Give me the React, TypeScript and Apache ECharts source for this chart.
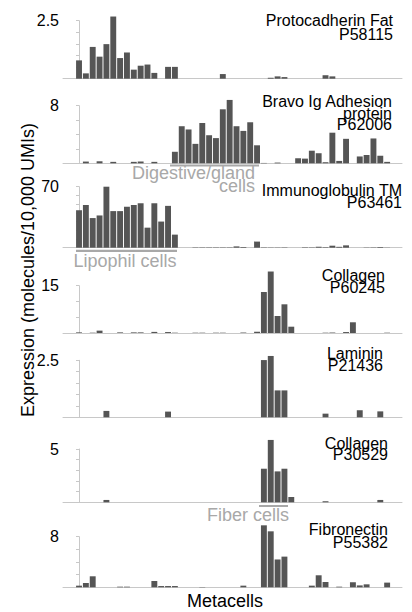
import React, { useEffect, useRef } from "react";
import * as echarts from "echarts";

const FONT = "'Liberation Sans', Arial, Helvetica, sans-serif";

// 47 metacells, index 0..46
const protocadherinFat = [0.79, 0.23, 1.37, 0.95, 1.49, 2.68, 0.89, 1.13, 0.39, 0.56, 0.61, 0.25, 0, 0.51, 0.51, 0, 0, 0, 0, 0, 0, 0.2, 0, 0, 0, 0, 0, 0, 0.04, 0.1, 0.07, 0, 0, 0, 0, 0, 0.15, 0.1, 0, 0, 0, 0, 0, 0, 0, 0, 0];
const bravoIg = [0, 0.24, 0, 0.28, 0, 0.2, 0, 0, 0.2, 0.25, 0, 0.2, 0, 0, 1.6, 5.15, 4.7, 2.7, 5.6, 3.9, 3.5, 7.5, 8.8, 5.15, 4.5, 5.7, 2.5, 0.05, 0, 0.1, 0, 0, 0.7, 0.65, 1.75, 1.4, 0.15, 4.25, 0.33, 3.4, 0, 0.95, 1.15, 3.45, 1.05, 0.2, 0];
const immunoglobulinTM = [43, 49, 34, 37, 70, 42, 42, 47, 49, 51, 23, 51, 30, 48, 15, 0, 0, 0.4, 0.4, 0.4, 0.4, 0.4, 0.4, 1.5, 0.8, 0, 7, 0.4, 0.3, 0.3, 0.4, 0, 0, 0.5, 0.4, 1.1, 0.6, 2.3, 1, 2.7, 0, 0, 0.3, 0.4, 0.8, 0.2, 0];
const collagenP60245 = [0.2, 0, 0.1, 0.75, 0, 0, 0.2, 0, 0.2, 0.2, 0, 0.35, 0, 0.3, 0.1, 0, 0, 0.1, 0.1, 0, 0.1, 0.1, 0, 0, 0.15, 0, 0.4, 13, 19.5, 5.4, 9.1, 2, 0, 0, 0, 0, 0.1, 0.15, 0, 0.3, 3.4, 0, 0, 0, 0, 0.1, 0];
const laminin = [0, 0, 0, 0, 0.28, 0, 0, 0, 0, 0, 0, 0, 0, 0.25, 0, 0, 0, 0, 0, 0, 0, 0, 0, 0, 0, 0, 0, 2.51, 2.69, 1.18, 1.18, 0, 0, 0, 0, 0, 0.16, 0, 0, 0, 0, 0.31, 0, 0, 0.26, 0, 0];
const collagenP30529 = [0, 0, 0, 0, 0.22, 0, 0, 0, 0, 0, 0, 0, 0, 0, 0, 0, 0, 0, 0, 0, 0, 0, 0, 0, 0, 0, 0, 3.15, 5.85, 2.9, 3.15, 0.5, 0, 0, 0, 0, 0.1, 0, 0, 0, 0, 0, 0, 0, 0.22, 0, 0];
const fibronectin = [0.26, 0.68, 1.74, 0, 0, 0, 0.1, 0.1, 0, 0, 0, 1.0, 0.2, 0.2, 0.2, 0, 0, 0, 0.05, 0, 0, 0, 0, 0, 0.26, 0, 0, 9.8, 8.85, 4.4, 4.85, 0, 0, 0, 0.26, 1.9, 0.84, 0, 0.1, 0, 0.8, 0.3, 0.47, 0, 0, 0.74, 0];

const panelValues = [protocadherinFat, bravoIg, immunoglobulinTM, collagenP60245, laminin, collagenP30529, fibronectin];
const panelTitles = [
  ["Protocadherin Fat", "P58115"],
  ["Bravo Ig Adhesion", "protein", "P62006"],
  ["Immunoglobulin TM", "P63461"],
  ["Collagen", "P60245"],
  ["Laminin", "P21436"],
  ["Collagen", "P30529"],
  ["Fibronectin", "P55382"],
];
const yMaxLabels = [2.5, 8, 70, 15, 2.5, 5, 8];
const yTickSteps = [0.5, 2, 10, 5, 0.5, 1, 2];

// layout (pixels)
const gridTops = [20.7, 105.7, 186.7, 285.7, 360.3, 449, 536.7];
const gridBottoms = [78.7, 163.3, 247.7, 333, 417.3, 502.3, 587.3];
const titleRight = [393, 392, 402, 385, 383, 388, 388];
const titleLineY = [
  [20.8, 34.5],
  [101.2, 113, 124.7],
  [190.8, 202],
  [275.5, 287],
  [353, 365.3],
  [443, 454.5],
  [529, 542],
];

const GRID_LEFT = 63;
const GRID_WIDTH = 339;
const X_MIN = -2.34;
const X_MAX = 47.17;
const BAR = "#555555";
const AXIS = "#c8c8c8";
const GRAY = "#a8a8a8";

export default function App() {
  const ref = useRef<HTMLDivElement>(null);
  useEffect(() => {
    if (!ref.current) return;
    const chart = echarts.init(ref.current, undefined, { renderer: "svg" });
    const grids: any[] = [];
    const xAxes: any[] = [];
    const yAxes: any[] = [];
    const series: any[] = [];
    const graphic: any[] = [];
    panelValues.forEach((vals, k) => {
      grids.push({
        left: GRID_LEFT,
        width: GRID_WIDTH,
        top: gridTops[k],
        height: gridBottoms[k] - gridTops[k],
      });
      xAxes.push({
        gridIndex: k,
        type: "value",
        min: X_MIN,
        max: X_MAX,
        axisLine: { show: true, onZero: false, lineStyle: { color: AXIS, width: 1 } },
        axisTick: { show: false },
        axisLabel: { show: false },
        splitLine: { show: false },
      });
      const ymax = yMaxLabels[k];
      yAxes.push({
        gridIndex: k,
        type: "value",
        min: 0,
        max: ymax,
        interval: yTickSteps[k],
        axisLine: { show: true, lineStyle: { color: AXIS, width: 1 } },
        axisTick: { show: true, length: 3, lineStyle: { color: AXIS } },
        splitLine: { show: false },
        axisLabel: {
          formatter: (v: number) => (Math.abs(v - ymax) < 1e-9 ? String(ymax) : ""),
          fontSize: 16,
          fontFamily: FONT,
          color: "#000",
          margin: 4,
        },
      });
      series.push({
        type: "bar",
        xAxisIndex: k,
        yAxisIndex: k,
        data: vals.map((v, i) => [i, v]),
        barWidth: 5.9,
        itemStyle: { color: BAR },
        clip: false,
        silent: true,
      });
      panelTitles[k].forEach((line, j) => {
        graphic.push({
          type: "text",
          x: titleRight[k],
          y: titleLineY[k][j],
          silent: true,
          style: {
            text: line,
            fontSize: 16,
            fontFamily: FONT,
            fill: "#000",
            align: "right",
            verticalAlign: "middle",
          },
        });
      });
    });

    // group annotations
    const gtext = (text: string, x: number, y: number, align: string) => ({
      type: "text",
      x,
      y,
      silent: true,
      style: { text, fontSize: 18, fontFamily: FONT, fill: GRAY, align, verticalAlign: "middle" },
    });
    graphic.push(
      { type: "rect", silent: true, shape: { x: 170, y: 164.5, width: 89, height: 2 }, style: { fill: GRAY } },
      gtext("Digestive/gland", 255, 173, "right"),
      gtext("cells", 255, 185.5, "right"),
      { type: "rect", silent: true, shape: { x: 76, y: 249.8, width: 101, height: 2.2 }, style: { fill: GRAY } },
      gtext("Lipophil cells", 125, 260.5, "center"),
      { type: "rect", silent: true, shape: { x: 259, y: 505, width: 29, height: 2 }, style: { fill: GRAY } },
      gtext("Fiber cells", 248, 514.5, "center"),
      {
        type: "text",
        x: 225,
        y: 601,
        silent: true,
        style: { text: "Metacells", fontSize: 18, fontFamily: FONT, fill: "#000", align: "center", verticalAlign: "middle" },
      },
      {
        type: "text",
        x: 28,
        y: 270,
        rotation: Math.PI / 2,
        silent: true,
        style: {
          text: "Expression (molecules/10,000 UMIs)",
          fontSize: 18,
          fontFamily: FONT,
          fill: "#000",
          align: "center",
          verticalAlign: "middle",
        },
      }
    );

    chart.setOption({
      animation: false,
      backgroundColor: "#ffffff",
      grid: grids,
      xAxis: xAxes,
      yAxis: yAxes,
      series,
      graphic,
    });
    return () => chart.dispose();
  }, []);
  return (
    <div
      ref={ref}
      style={{ position: "fixed", left: 0, top: 0, width: 412, height: 612, background: "#fff" }}
    />
  );
}
